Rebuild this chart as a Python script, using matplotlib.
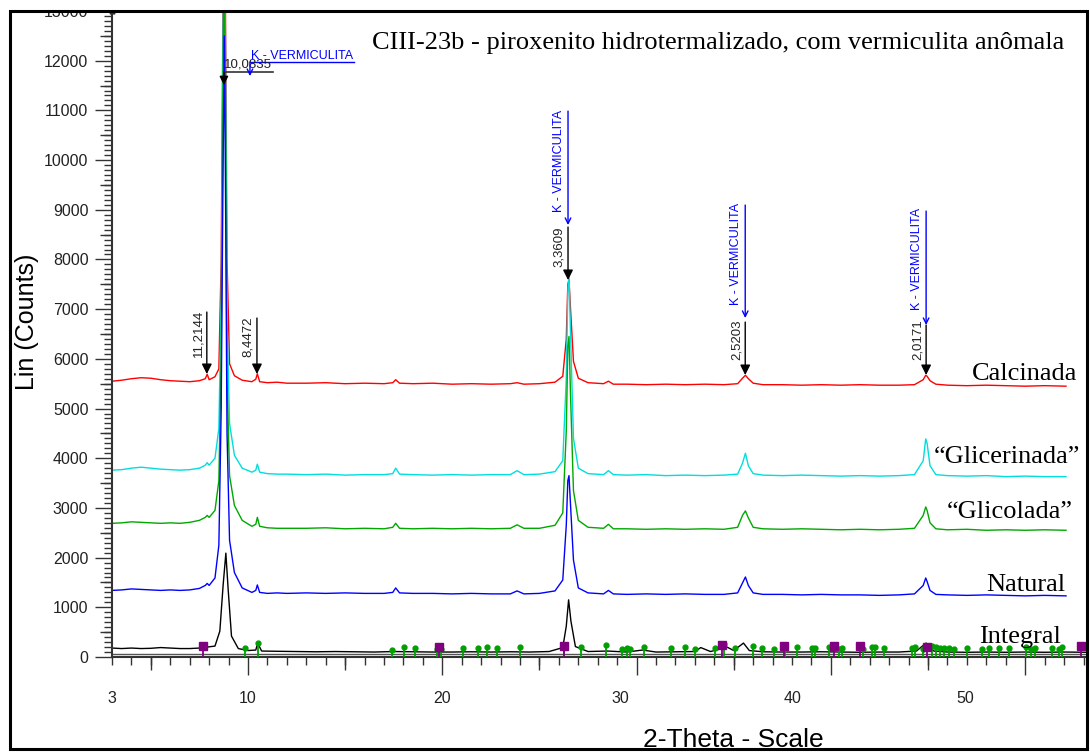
import numpy as np
import matplotlib
matplotlib.use('Agg')
import matplotlib.pyplot as plt
from matplotlib.patches import Rectangle

plt.rcParams['font.family'] = 'Liberation Sans'

# shared 2-theta grid for the four treated samples (degrees)
two_theta = [3.0, 3.5, 4.0, 4.5, 5.0, 5.5, 6.0, 6.5, 7.0, 7.5,
             7.8, 7.9, 8.0, 8.3, 8.5, 8.62, 8.72, 8.78, 8.84, 8.92, 9.05,
             9.3, 9.7, 10.2, 10.4, 10.48, 10.6, 11.0, 11.5, 12.0,
             13.0, 14.0, 15.0, 16.0, 17.0, 17.45, 17.6, 17.8, 18.5, 19.5, 20.5, 21.5, 22.5,
             23.5, 23.85, 24.2, 25.0, 25.8, 26.2, 26.38, 26.46, 26.52, 26.6, 26.75, 27.0, 27.5,
             28.3, 28.55, 28.8, 29.5, 30.5, 31.5, 32.5, 33.5, 34.5, 35.2, 35.45, 35.6, 35.75, 36.0, 36.5,
             37.5, 38.5, 39.5, 40.5, 41.5, 42.5, 43.5, 44.3, 44.75, 44.88, 44.95, 45.1, 45.4,
             46.0, 47.0, 48.0, 49.0, 50.0, 51.0, 52.1]

calcinada = [5550, 5570, 5600, 5620, 5610, 5580, 5560, 5550, 5540, 5560,
             5600, 5690, 5580, 5640, 5800, 8000, 13500, 16000, 13000, 8000, 5900,
             5660, 5570, 5540, 5590, 5700, 5540, 5520, 5530, 5510,
             5510, 5520, 5500, 5510, 5500, 5520, 5580, 5510, 5500, 5510, 5490, 5500, 5490,
             5500, 5520, 5490, 5500, 5530, 5650, 6400, 7500, 7590, 7000, 5950, 5610, 5520,
             5500, 5550, 5490, 5490, 5480, 5490, 5480, 5490, 5480, 5500, 5610, 5670, 5600, 5510, 5480,
             5480, 5470, 5480, 5470, 5480, 5470, 5470, 5480, 5580, 5670, 5650, 5560, 5490,
             5470, 5460, 5470, 5460, 5450, 5460, 5450]

glicerinada = [3760, 3770, 3800, 3820, 3800, 3780, 3770, 3760, 3770, 3800,
               3860, 3910, 3860, 4000, 4600, 7200, 12800, 15500, 12300, 6800, 4700,
               4060, 3800, 3720, 3760, 3880, 3720, 3690, 3680, 3680,
               3670, 3680, 3660, 3670, 3670, 3690, 3800, 3680, 3670, 3660, 3670, 3660, 3670,
               3670, 3750, 3670, 3680, 3730, 3950, 5600, 7350, 7700, 6500, 4400, 3800, 3690,
               3670, 3750, 3670, 3660, 3670, 3650, 3660, 3650, 3660, 3680, 3900, 4100, 3850, 3690, 3660,
               3650, 3660, 3650, 3640, 3650, 3640, 3650, 3670, 3950, 4390, 4300, 3850, 3670,
               3650, 3640, 3650, 3630, 3640, 3630, 3630]

glicolada = [2690, 2700, 2720, 2710, 2700, 2690, 2700, 2690, 2710, 2750,
             2810, 2850, 2810, 2950, 3550, 6100, 11600, 14500, 11000, 5600, 3650,
             3050, 2750, 2630, 2670, 2810, 2630, 2600, 2590, 2590,
             2590, 2600, 2580, 2590, 2580, 2610, 2690, 2590, 2580, 2590, 2580, 2590, 2580,
             2590, 2660, 2590, 2590, 2650, 2900, 4550, 6250, 6450, 5250, 3350, 2750, 2610,
             2590, 2670, 2580, 2580, 2570, 2580, 2570, 2580, 2570, 2610, 2850, 2940, 2800, 2610, 2580,
             2570, 2580, 2570, 2560, 2570, 2560, 2570, 2590, 2850, 3020, 2950, 2700, 2580,
             2560, 2570, 2550, 2560, 2550, 2560, 2550]

natural = [1340, 1350, 1370, 1360, 1350, 1340, 1350, 1340, 1350, 1380,
           1440, 1480, 1440, 1590, 2250, 5000, 10000, 12500, 9500, 4500, 2350,
           1700, 1390, 1300, 1340, 1450, 1300, 1280, 1290, 1280,
           1290, 1280, 1290, 1280, 1280, 1300, 1390, 1290, 1280, 1280, 1270, 1280, 1270,
           1270, 1330, 1270, 1280, 1330, 1550, 2650, 3550, 3650, 3050, 1950, 1390, 1290,
           1270, 1340, 1270, 1260, 1270, 1260, 1270, 1260, 1260, 1290, 1490, 1610, 1440, 1290, 1260,
           1260, 1250, 1260, 1250, 1250, 1240, 1250, 1270, 1440, 1590, 1520, 1340, 1260,
           1250, 1240, 1250, 1240, 1230, 1240, 1230]

two_theta_int = [3.0, 3.5, 4.0, 4.5, 5.0, 5.5, 6.0, 6.5, 7.0, 7.5, 7.9, 8.3, 8.55, 8.72, 8.86, 8.98, 9.15,
                 9.5, 10.0, 10.4, 10.5, 10.7, 11.5, 12.5, 13.5, 14.5, 15.5, 16.5, 17.5, 18.5, 19.5,
                 20.5, 21.5, 22.5, 23.5, 24.5, 25.5, 26.2, 26.38, 26.5, 26.62, 26.85, 27.5, 28.5, 29.5,
                 30.3, 31.0, 32.0, 33.0, 33.3, 33.8, 34.3, 34.6, 35.0, 35.5, 35.8, 36.5, 37.5, 38.5,
                 39.5, 40.5, 41.5, 42.5, 43.5, 44.4, 44.9, 45.3, 46.0, 47.0, 48.0, 49.0, 50.0, 51.0,
                 52.0, 53.1]
integral = [180, 170, 180, 170, 175, 190, 180, 170, 170, 180, 200, 220, 520, 1450, 2090, 1350, 420,
            170, 130, 140, 280, 120, 115, 110, 105, 110, 105, 100, 110, 105, 100,
            100, 105, 100, 105, 100, 110, 190, 620, 1150, 720, 210, 110, 120, 100,
            140, 100, 105, 110, 190, 110, 160, 210, 130, 280, 130, 105, 100, 100,
            105, 100, 95, 100, 100, 120, 280, 120, 100, 95, 100, 95, 100, 95,
            100, 95]

# phase sticks under the integral pattern
green_pins = [9.84, 10.51, 17.40, 18.01, 18.58, 19.71, 19.92, 21.05, 21.82, 22.28,
              22.79, 23.98, 26.24, 27.16, 28.45, 29.27, 29.53, 29.68, 30.40, 31.79,
              32.51, 33.03, 34.05, 34.52, 35.08, 36.01, 36.47, 37.09, 37.65, 38.27,
              39.04, 39.20, 39.92, 40.43, 40.58, 41.66, 42.13, 42.28, 42.74, 44.18,
              44.34, 44.75, 45.21, 45.42, 45.62, 45.83, 46.08, 46.34, 47.01, 47.78,
              48.14, 48.66, 49.17, 50.04, 50.30, 50.51, 51.38, 51.74, 51.89]
green_h = [180, 280, 150, 200, 190, 170, 160, 180, 190, 200,
           180, 210, 230, 200, 250, 170, 180, 170, 200, 180,
           200, 170, 190, 260, 180, 220, 190, 170, 160, 210,
           190, 180, 200, 170, 190, 170, 210, 200, 180, 190,
           200, 170, 220, 200, 190, 180, 190, 170, 180, 170,
           180, 190, 180, 200, 170, 180, 190, 170, 200]
purple_pins = [7.68, 19.81, 26.24, 34.41, 37.60, 40.17, 41.51, 44.95, 52.87]
purple_h = [230, 200, 220, 240, 230, 220, 220, 200, 220]

# d-spacing marks on Calcinada: 2theta, arrow tip, arrow top, label bottom
d_pos = [7.88, 10.46, 26.47, 35.59, 44.9]
d_tip = [5694, 5694, 7586, 5674, 5674]
d_top = [6942, 6821, 8652, 6740, 6680]
d_txt = [6036, 6036, 7847, 5976, 5976]
d_lab = ['11,2144', '8,4472', '3,3609', '2,5203', '2,0171']
# K - vermiculita marks
kv_pos = [26.47, 35.59, 44.9]
kv_tip = [8692, 6821, 6680]
kv_top = [10986, 9095, 8974]
kv_txt = [8954, 7082, 6982]

xtick_text = ['3', '10', '20', '30', '40', '50']
xtick_text_pos = [3, 10, 20, 29.15, 38.05, 46.9]

W, H = 1090, 753
fig = plt.figure(figsize=(W / 100, H / 100), dpi=100)
ax = fig.add_axes([112 / W, 96 / H, 974 / W, 646 / H])
ax.patch.set_visible(False)

ax.plot(two_theta, calcinada, color='#ff0000', lw=1.0)
ax.plot(two_theta, glicerinada, color='#00dede', lw=1.0)
ax.plot(two_theta, glicolada, color='#00a800', lw=1.0)
ax.plot(two_theta, natural, color='#0000ff', lw=1.0)
ax.plot(two_theta_int, integral, color='black', lw=1.0)

ax.axhline(70, color='#555555', lw=1.0, zorder=1)
ax.vlines(green_pins, 0, green_h, color='#00a000', lw=1.3, zorder=3)
ax.plot(green_pins, green_h, 'o', color='#00a000', ms=3.5, zorder=3)
ax.vlines(purple_pins, 0, purple_h, color='#800080', lw=1.3, zorder=3)
ax.plot(purple_pins, purple_h, 's', color='#800080', ms=5.5, zorder=3)

ax.set_xlim(3, 3 + 974 / 19.43)
ax.set_ylim(0, 13000)

# black d-spacing arrows
for x, tip, top, ytxt, lab in zip(d_pos, d_tip, d_top, d_txt, d_lab):
    ax.annotate('', xy=(x, tip), xytext=(x, top),
                arrowprops=dict(arrowstyle='-|>', color='black', lw=1.0,
                                mutation_scale=15, shrinkA=0, shrinkB=0))
    ax.annotate(lab, xy=(x, ytxt), xytext=(-2, 0), textcoords='offset points',
                rotation=90, ha='right', va='bottom', fontsize=9.5, color='#222222')

for x, tip, top, ytxt in zip(kv_pos, kv_tip, kv_top, kv_txt):
    ax.annotate('', xy=(x, tip), xytext=(x, top),
                arrowprops=dict(arrowstyle='->', color='#0000ff', lw=1.0,
                                mutation_scale=10, shrinkA=0, shrinkB=0))
    ax.annotate('K - VERMICULITA', xy=(x, ytxt), xytext=(-2, 0), textcoords='offset points',
                rotation=90, ha='right', va='bottom', fontsize=9, color='#0000ff')

# main peak: horizontal labels
ax.plot([8.76, 11.29], [11777, 11777], color='#333333', lw=1.2)
ax.annotate('', xy=(8.76, 11509), xytext=(8.76, 11777),
            arrowprops=dict(arrowstyle='-|>', color='black', lw=1.0,
                            mutation_scale=13, shrinkA=0, shrinkB=0))
ax.text(8.78, 11860, '10,0835', fontsize=9.5, color='#222222', va='baseline')
ax.plot([10.10, 15.45], [11972, 11972], color='#0000ff', lw=1.0)
ax.annotate('', xy=(10.10, 11690), xytext=(10.10, 11972),
            arrowprops=dict(arrowstyle='->', color='#0000ff', lw=1.0,
                            mutation_scale=10, shrinkA=0, shrinkB=0))
ax.text(10.15, 12032, 'K - VERMICULITA', fontsize=9, color='#0000ff', va='baseline')

# axes styling
for s in ['top', 'right']:
    ax.spines[s].set_visible(False)
for s in ['left', 'bottom']:
    ax.spines[s].set_color('#333333')
    ax.spines[s].set_linewidth(1.5)

ax.set_xticks(np.arange(10, 60, 10))
ax.set_xticks(np.arange(3, 54, 1), minor=True)
ax.set_xticklabels([])
ax.set_yticks(np.arange(0, 14000, 1000))
ax.set_yticks(np.arange(0, 13100, 100), minor=True)
ax.tick_params(axis='x', which='major', length=13, width=1.0, color='#333333')
ax.tick_params(axis='x', which='minor', length=6, width=1.0, color='#333333')
ax.tick_params(axis='y', which='major', length=12, width=1.0, color='#333333',
               pad=5, labelsize=11.5, labelcolor='#222222')
ax.tick_params(axis='y', which='minor', length=6, width=1.0, color='#333333')

# medium ticks at 5 deg / 500 counts
ax_mid = fig.add_axes(ax.get_position(), frameon=False)
ax_mid.patch.set_visible(False)
ax_mid.set_xlim(ax.get_xlim())
ax_mid.set_ylim(ax.get_ylim())
ax_mid.set_xticks(np.arange(5, 55, 10))
ax_mid.set_yticks(np.arange(500, 13000, 1000))
ax_mid.tick_params(axis='x', length=9.5, width=1.0, color='#333333', labelbottom=False)
ax_mid.tick_params(axis='y', length=8.5, width=1.0, color='#333333', labelleft=False)

for xp, t in zip(xtick_text_pos, xtick_text):
    ax.text(xp, -0.0705, t, transform=ax.get_xaxis_transform(), ha='center',
            va='baseline', fontsize=11.5, color='#222222')

ax.plot(0, 1, '^', transform=ax.transAxes, ms=3.5, color='#333333', clip_on=False)

# sample names
serif = 'Liberation Serif'
names = ['Calcinada', '\u201cGlicerinada\u201d', '\u201cGlicolada\u201d', 'Natural', 'Integral']
name_right = [1077, 1080, 1073, 1065, 1061]
name_base = [380, 463, 518, 591, 643]
for n, xr, yb in zip(names, name_right, name_base):
    fig.text(xr / W, 1 - yb / H, n, ha='right', va='baseline', fontsize=19, family=serif)

fig.text(372 / W, 1 - 48.5 / H, 'CIII-23b - piroxenito hidrotermalizado, com vermiculita an\u00f4mala',
         ha='left', va='baseline', fontsize=19, family=serif)
fig.text(733 / W, 1 - 747 / H, '2-Theta - Scale', ha='center', va='baseline', fontsize=19, zorder=2)
fig.text(27 / W, 1 - 322 / H, 'Lin (Counts)', rotation=90, ha='center', va='center', fontsize=18)

# outer frame and masks beyond it
fig.add_artist(Rectangle((0, 1 - 11 / H), 1, 11 / H, transform=fig.transFigure,
                         facecolor='white', edgecolor='none', zorder=9))
fig.add_artist(Rectangle((0, 0), 1, 4 / H, transform=fig.transFigure,
                         facecolor='white', edgecolor='none', zorder=9))
fig.add_artist(Rectangle((10 / W, 4 / H), 1076.5 / W, (753 - 4 - 11.3) / H, transform=fig.transFigure,
                         facecolor='none', edgecolor='black', lw=2.2, zorder=10))

fig.savefig('out.png', dpi=100)
